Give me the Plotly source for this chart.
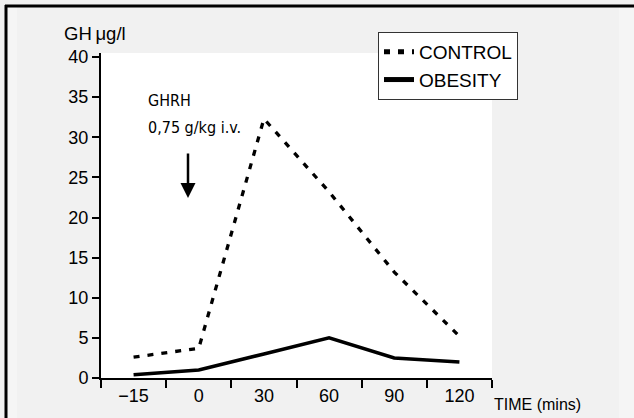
import plotly.graph_objects as go

times = ["\u221215", "0", "30", "60", "90", "120"]
control = [2.6, 3.7, 32.3, 23.2, 13.2, 5.2]
obesity = [0.4, 1.0, 3.0, 5.0, 2.5, 2.0]
y_ticks = [0, 5, 10, 15, 20, 25, 30, 35, 40]

L, R, T, B = 101, 142, 53, 40
W, H = 634, 418
pw, ph = W - L - R, H - T - B


def px(x):
    return (x - L) / pw


def py(y):
    return (H - B - y) / ph


FONT = "Liberation Sans, Arial, Helvetica, sans-serif"

fig = go.Figure()
fig.add_trace(go.Scatter(x=times, y=control, mode="lines", name="CONTROL",
                         line=dict(color="black", width=3.3, dash="6px,8px")))
fig.add_trace(go.Scatter(x=times, y=obesity, mode="lines", name="OBESITY",
                         line=dict(color="black", width=3.5)))

fig.update_layout(
    width=W, height=H,
    margin=dict(l=L, r=R, t=T, b=B, pad=0),
    paper_bgcolor="#f1f1f1", plot_bgcolor="white",
    font=dict(family=FONT, color="black"),
    showlegend=True,
    legend=dict(x=px(378), y=py(32), xanchor="left", yanchor="top",
                bgcolor="white", bordercolor="#333", borderwidth=1,
                font=dict(size=19, family=FONT), itemwidth=30,
                tracegroupgap=0, itemsizing="constant"),
    xaxis=dict(type="category", categoryorder="array", categoryarray=times,
               range=[-0.5, 5.5], tickson="boundaries", ticks="outside",
               ticklen=8, tickwidth=2, tickcolor="black", showline=True,
               linecolor="black", linewidth=2, showgrid=False, zeroline=False,
               tickfont=dict(size=18, family=FONT)),
    yaxis=dict(range=[0, 40.5], tickvals=y_ticks, ticks="outside", ticklen=7,
               tickwidth=2, tickcolor="black", showline=True, linecolor="black",
               linewidth=2, showgrid=False, zeroline=False,
               tickfont=dict(size=18, family=FONT)),
)

fig.add_annotation(text="GH\u2009\u03bcg/l", xref="paper", yref="paper",
                   x=px(62), y=py(33), xanchor="left", yanchor="middle",
                   showarrow=False, font=dict(size=18.5, family=FONT))
fig.add_annotation(text="TIME (mins)", xref="paper", yref="paper",
                   x=px(492), y=py(404), xanchor="left", yanchor="middle",
                   showarrow=False, font=dict(size=16, family=FONT))
NARROW = "DejaVu Sans Condensed, Liberation Sans Narrow, sans-serif"
fig.add_annotation(text="GHRH", xref="paper", yref="paper",
                   x=px(146), y=py(100), xanchor="left", yanchor="middle",
                   showarrow=False, font=dict(size=16, family=NARROW))
fig.add_annotation(text="0,75 g/kg i.v.", xref="paper", yref="paper",
                   x=px(146), y=py(128), xanchor="left", yanchor="middle",
                   showarrow=False, font=dict(size=16, family=NARROW))
fig.add_annotation(text="", xref="paper", yref="paper",
                   x=px(188), y=py(198), ax=0, ay=-46, axref="pixel", ayref="pixel",
                   showarrow=True, arrowhead=2, arrowsize=1.2, arrowwidth=2.5,
                   arrowcolor="black")

# frame and background strips
fig.add_shape(type="rect", xref="paper", yref="paper", layer="below",
              x0=px(619), x1=px(640), y0=py(420), y1=py(7),
              fillcolor="#f5f5f5", line=dict(width=0))
fig.add_shape(type="rect", xref="paper", yref="paper", layer="below",
              x0=px(7), x1=px(17), y0=py(420), y1=py(7),
              fillcolor="#f5f5f5", line=dict(width=0))
fig.add_shape(type="line", xref="paper", yref="paper",
              x0=px(5), x1=px(640), y0=py(6), y1=py(6),
              line=dict(color="black", width=3))
fig.add_shape(type="line", xref="paper", yref="paper",
              x0=px(6), x1=px(6), y0=py(5), y1=py(420),
              line=dict(color="black", width=3))

fig.write_html("out.html")
